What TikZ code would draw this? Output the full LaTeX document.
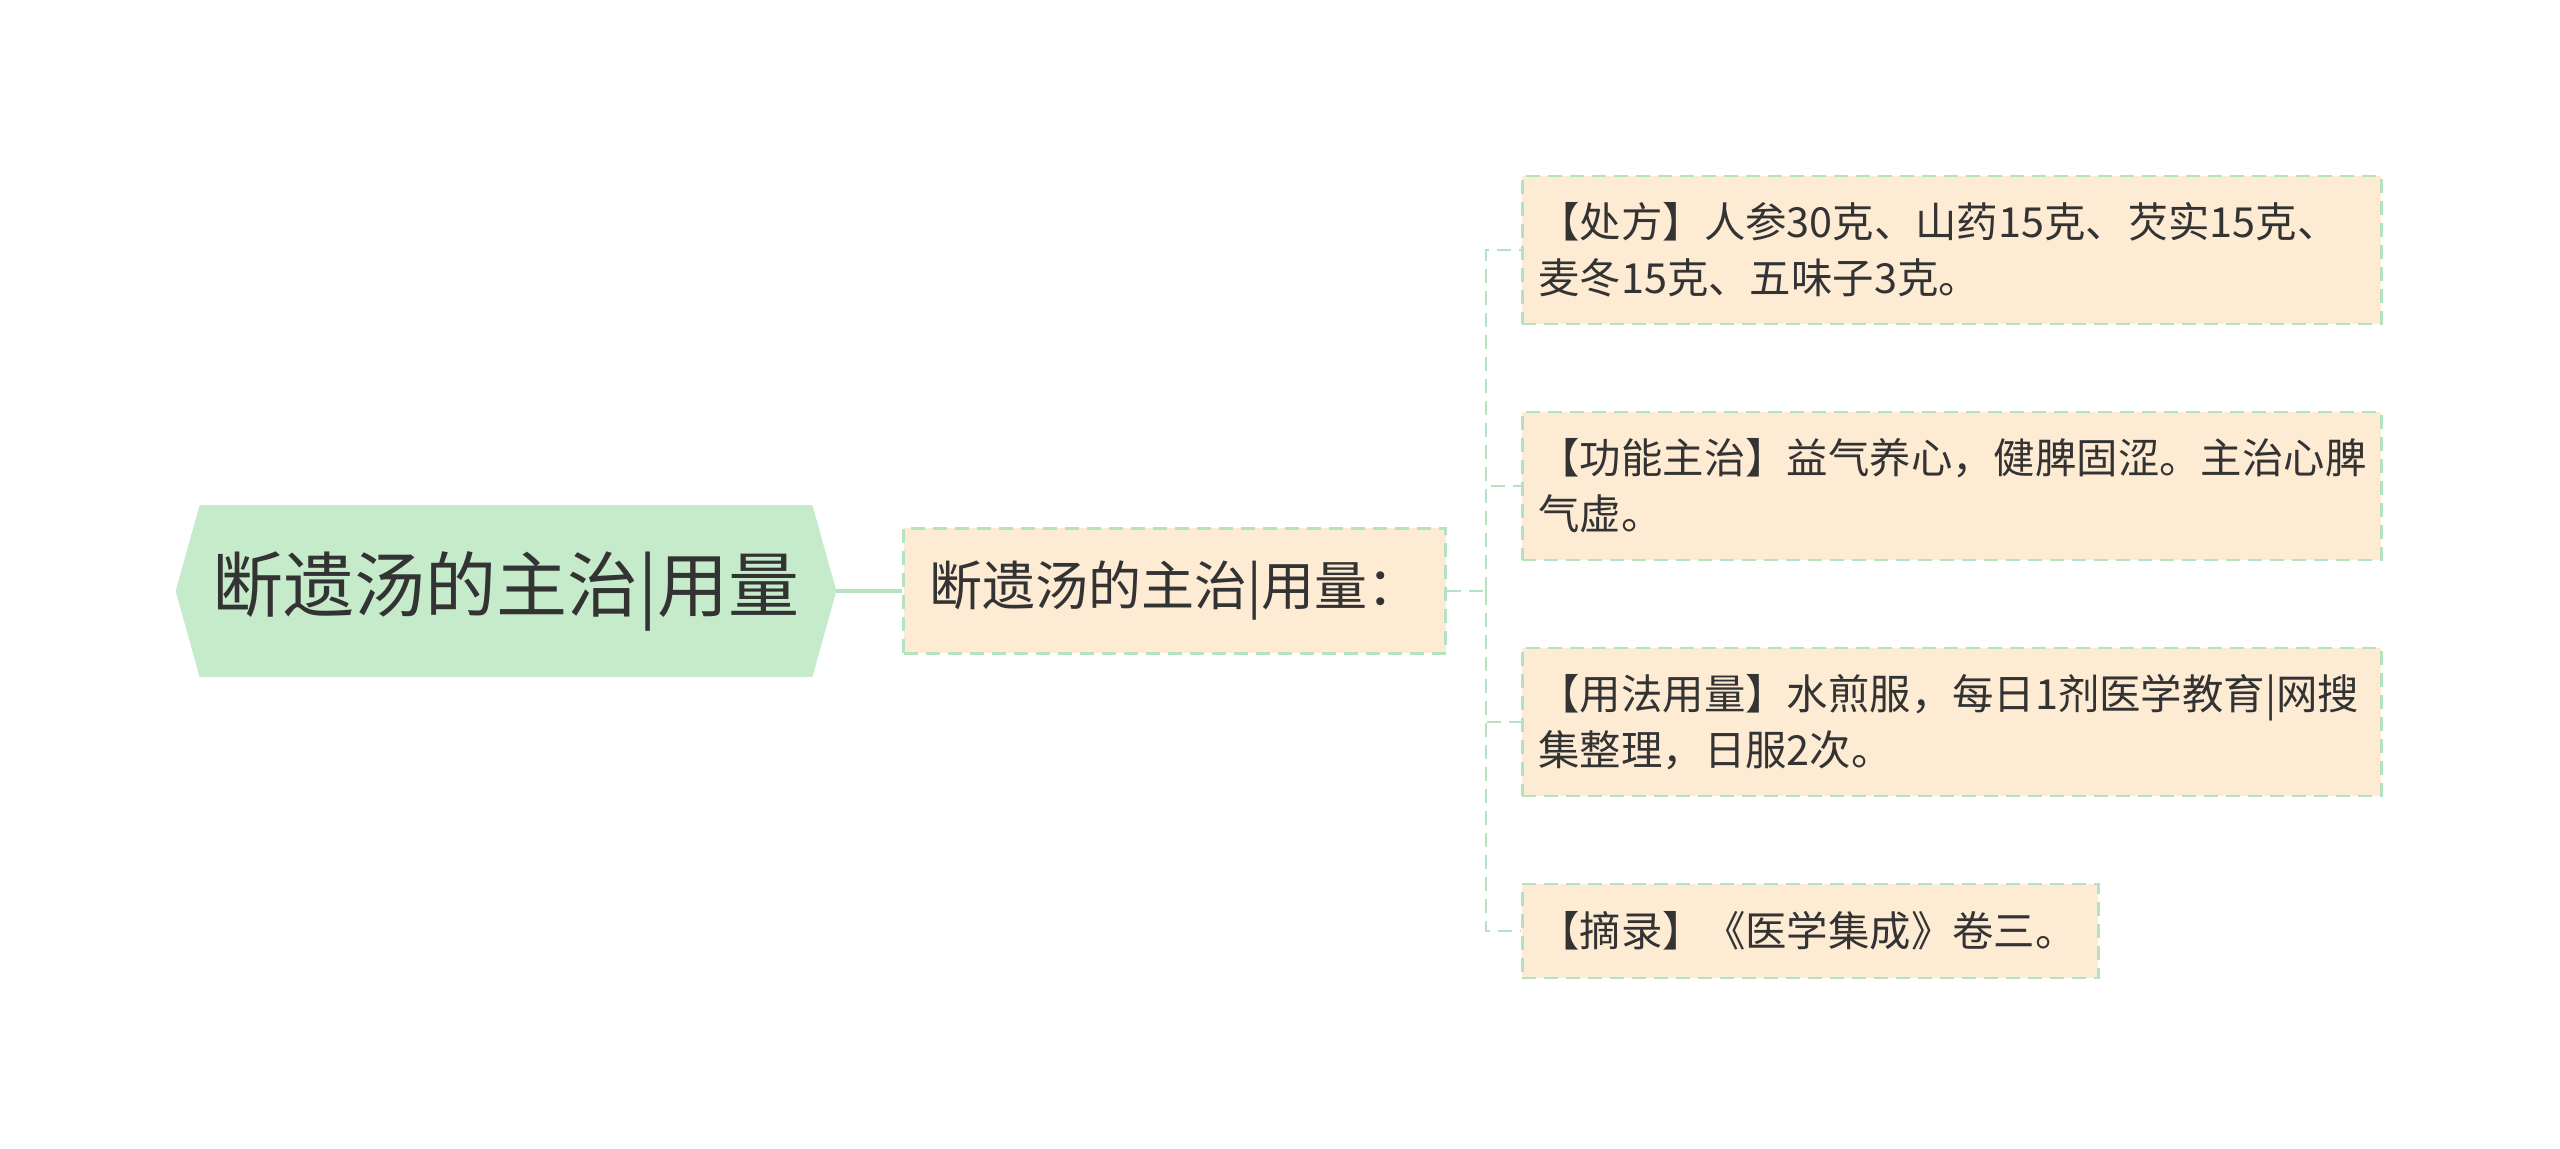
\documentclass[tikz,border=0pt]{standalone}
\usepackage{fontspec}
\setmainfont{Noto Sans CJK SC}
\usetikzlibrary{positioning, calc, backgrounds}
\definecolor{rootgreen}{HTML}{C6EBCB}
\definecolor{linegreen}{HTML}{B5E2BF}
\definecolor{boxpeach}{HTML}{FDEBD4}
\definecolor{textgray}{HTML}{333333}

\begin{document}
\begin{tikzpicture}[x=0.5pt, y=-0.5pt,
  rootnode/.style={rectangle, minimum width=306pt, minimum height=85.5pt, inner sep=0pt, text=textgray, font=\fontsize{35.5}{42}\selectfont},
  subnode/.style={rectangle, draw=linegreen, dash pattern=on 7pt off 4pt, line width=1.4pt, fill=boxpeach, minimum width=271pt, minimum height=62.5pt, inner sep=0pt, text=textgray, font=\fontsize{26.5}{32}\selectfont},
  leaf/.style={rectangle, draw=linegreen, dash pattern=on 7pt off 4pt, line width=1.4pt, fill=boxpeach, anchor=west, minimum width=429.5pt, minimum height=74pt, text width=413.5pt, inner xsep=8pt, align=left, text=textgray, font=\fontsize{20.7}{28}\selectfont},
  shortleaf/.style={leaf, minimum width=288pt, minimum height=47pt, text width=272pt},
  link/.style={draw=linegreen, line width=1.4pt, dash pattern=on 7pt off 4pt},
  rootlink/.style={draw=linegreen, line width=2pt}
]
  \useasboundingbox (0,0) rectangle (2560,1149);

  % Root
  \node[rootnode] (root) at (506,591) {断遗汤的主治|用量};
  \coordinate (roottip) at ($(root.east)+(24,0)$);
  \begin{scope}[on background layer]
    \fill[rootgreen] ($(root.west)+(-24,0)$) -- (root.north west) -- (root.north east)
      -- (roottip) -- (root.south east) -- (root.south west) -- cycle;
  \end{scope}

  % Sub topic
  \node[subnode, right=45pt of root] (child) {断遗汤的主治|用量：};
  \coordinate (trunk) at (1486,591);

  % Leaves
  \node[leaf] (recipe) at (1521,250) {【处方】人参30克、山药15克、芡实15克、\\麦冬15克、五味子3克。};
  \node[leaf] (effect) at (1521,486) {【功能主治】益气养心，健脾固涩。主治心脾\\气虚。};
  \node[leaf] (usage)  at (1521,722) {【用法用量】水煎服，每日1剂医学教育|网搜\\集整理，日服2次。};
  \node[shortleaf] (source) at (1521,931) {【摘录】《医学集成》卷三。};

  % Links
  \draw[rootlink] (roottip) -- (child.west);
  \draw[link] (child.east) -- (trunk);
  \foreach \leafname in {recipe, effect, usage, source}
    \draw[link] (trunk) |- (\leafname.west);
\end{tikzpicture}
\end{document}
